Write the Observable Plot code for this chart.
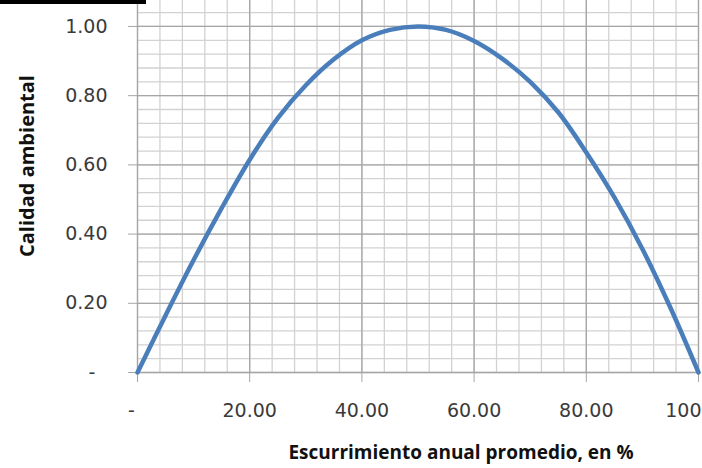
<!DOCTYPE html>
<html>
<head>
<meta charset="utf-8">
<script src="https://cdn.jsdelivr.net/npm/d3@7"></script>
<script src="https://cdn.jsdelivr.net/npm/@observablehq/plot@0.6"></script>
<style>
  html, body { margin: 0; padding: 0; background: #fff; }
  #wrap { position: relative; width: 702px; height: 468px; overflow: hidden; }
  #bar { position: absolute; left: 0; top: 0; width: 146px; height: 4px; background: #000; z-index: 2; }
</style>
</head>
<body>
<div id="wrap"><div id="bar"></div></div>
<script>
const escurrimiento = [0, 5, 10, 15, 20, 25, 30, 35, 40, 45, 50, 55, 60, 65, 70, 75, 80, 85, 90, 95, 100];
const calidad = [0, 0.165, 0.325, 0.475, 0.615, 0.735, 0.83, 0.905, 0.96, 0.99, 1.00, 0.99, 0.958, 0.907, 0.84, 0.752, 0.636, 0.506, 0.357, 0.187, 0];

const xTicks = [0, 20, 40, 60, 80, 100];
const xTickLabels = ["-  ", "20.00", "40.00", "60.00", "80.00", "100.00"];
const yTicks = [0, 0.2, 0.4, 0.6, 0.8, 1.0];
const yTickLabels = ["-  ", "0.20", "0.40", "0.60", "0.80", "1.00"];
const xMinorStep = 4;
const yMinorStep = 0.04;

const xTitle = "Escurrimiento anual promedio, en %";
const yTitle = "Calidad ambiental";

const data = escurrimiento.map((x, i) => ({x, y: calidad[i]}));
const xMinor = d3.range(0, 100 + 1e-9, xMinorStep);
const yMinor = d3.range(0, 1.075, yMinorStep).map(v => +v.toFixed(2));

const minorColor = "#d2d2d2";
const majorColor = "#a6a6a6";
const textColor = "#3a3a3a";

const chart = Plot.plot({
  width: 702,
  height: 468,
  marginLeft: 137,
  marginRight: 4,
  marginTop: 0,
  marginBottom: 96,
  style: {background: "transparent", overflow: "visible"},
  x: {domain: [0, 100]},
  y: {domain: [0, 1.075]},
  marks: [
    Plot.ruleX(xMinor, {stroke: minorColor, strokeWidth: 1.3}),
    Plot.ruleY(yMinor, {stroke: minorColor, strokeWidth: 1.3}),
    Plot.ruleX(xTicks, {stroke: majorColor, strokeWidth: 1.3}),
    Plot.ruleY(yTicks, {stroke: majorColor, strokeWidth: 1.3}),
    Plot.axisY({
      ticks: yTicks,
      tickFormat: d => yTickLabels[yTicks.indexOf(d)],
      tickSize: 9,
      tickPadding: 21,
      stroke: majorColor,
      fill: textColor,
      fontSize: 19,
      fontFamily: "DejaVu Sans",
      label: null
    }),
    Plot.axisX({
      ticks: xTicks,
      tickFormat: d => xTickLabels[xTicks.indexOf(d)],
      tickSize: 10,
      tickPadding: 21,
      stroke: majorColor,
      fill: textColor,
      fontSize: 19,
      fontFamily: "DejaVu Sans",
      label: null
    }),
    Plot.line(data, {x: "x", y: "y", curve: "catmull-rom", stroke: "#4a7ebb", strokeWidth: 4.5})
  ]
});

const svg = d3.select(chart);
svg.append("text")
  .attr("transform", "translate(26,166) rotate(-90)")
  .attr("text-anchor", "middle")
  .attr("dominant-baseline", "central")
  .attr("font-family", "'Open Sans'")
  .attr("font-weight", "bold")
  .attr("font-size", 20)
  .attr("fill", "#111")
  .text(yTitle);
svg.append("text")
  .attr("x", 461)
  .attr("y", 459)
  .attr("text-anchor", "middle")
  .attr("font-family", "'Open Sans'")
  .attr("font-weight", "bold")
  .attr("font-size", 19)
  .attr("fill", "#111")
  .text(xTitle);

document.getElementById("wrap").appendChild(chart);
</script>
</body>
</html>
